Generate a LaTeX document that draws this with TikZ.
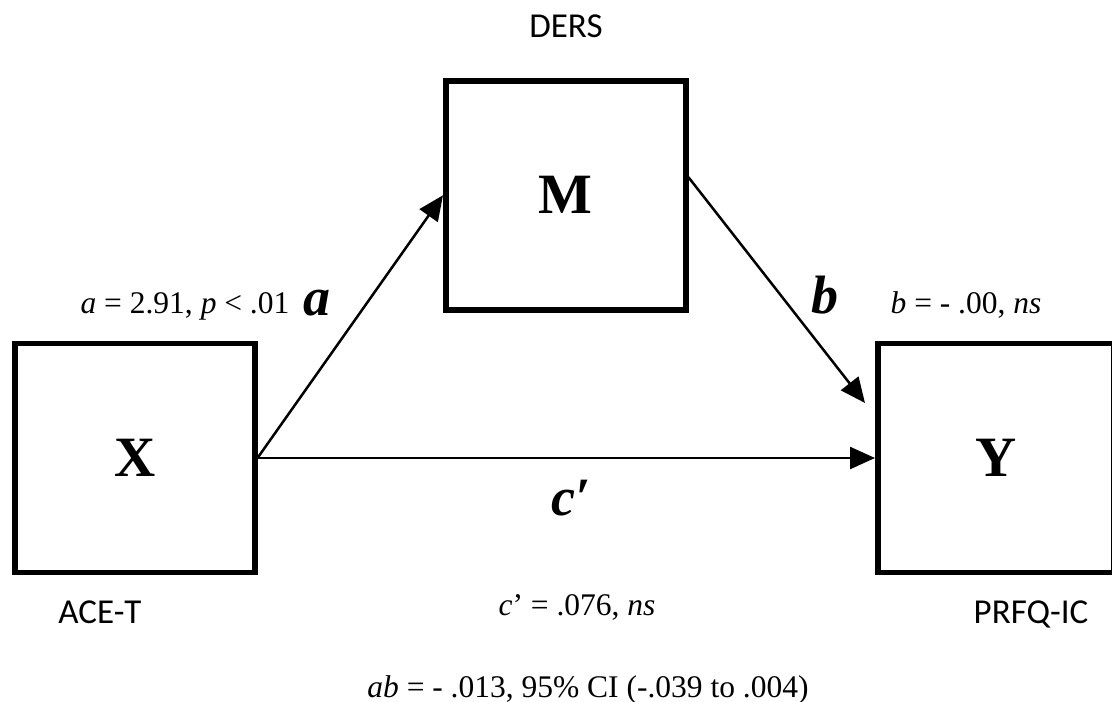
\documentclass[tikz,border=0pt]{standalone}
\usepackage{fontspec}
\setmainfont{Liberation Serif}
\newfontfamily\calibfont{Carlito}
\usetikzlibrary{arrows.meta}
\begin{document}
\begin{tikzpicture}[x=1pt,y=-1pt,
  box/.style={draw, line width=5.5pt, minimum width=240pt, minimum height=229pt, inner sep=0pt,
    font=\fontsize{57}{60}\selectfont\bfseries},
  conn/.style={line width=2.5pt, -{Triangle[length=25pt,width=22pt]}},
  eq/.style={font=\fontsize{31.5}{34}\selectfont, inner sep=0pt, anchor=base},
  big/.style={font=\fontsize{54}{58}\selectfont\bfseries\itshape, inner sep=0pt, anchor=base},
  lab/.style={font=\fontsize{35}{38}\selectfont\calibfont, inner sep=0pt, anchor=base}]
\useasboundingbox (0,0) rectangle (1112,702);
\node[box] (X) at (134.75,458) {X};
\node[box] (M) at (565.75,195.25) {M};
\node[box, minimum width=236pt] (Y) at (995.75,458) {Y};
\draw[conn] (X.east) -- (M.west);
\draw[conn] ([yshift=18pt]M.east) -- ([xshift=-10pt,yshift=55pt]Y.west);
\draw[conn] (X.east) -- (Y.west);
\node[big] (la) at (317,315) {a};
\node[big] (lb) at (825,313) {b};
\node[big] (lc) at (571,515) {c′};
\node[eq] (aeq) at (185,313) {\textit{a} = 2.91, \textit{p} < .01};
\node[eq] (beq) at (966,313) {\textit{b} = - .00, \textit{ns}};
\node[eq] (ceq) at (577,615) {\textit{c}’ = .076, \textit{ns}};
\node[eq] (abeq) at (588,697) {\textit{ab} = - .013, 95\% CI (-.039 to .004)};
\node[lab] (ders) at (566,37) {DERS};
\node[lab] (acet) at (100,623) {ACE-T};
\node[lab] (prfq) at (1031,623) {PRFQ-IC};
\end{tikzpicture}
\end{document}
